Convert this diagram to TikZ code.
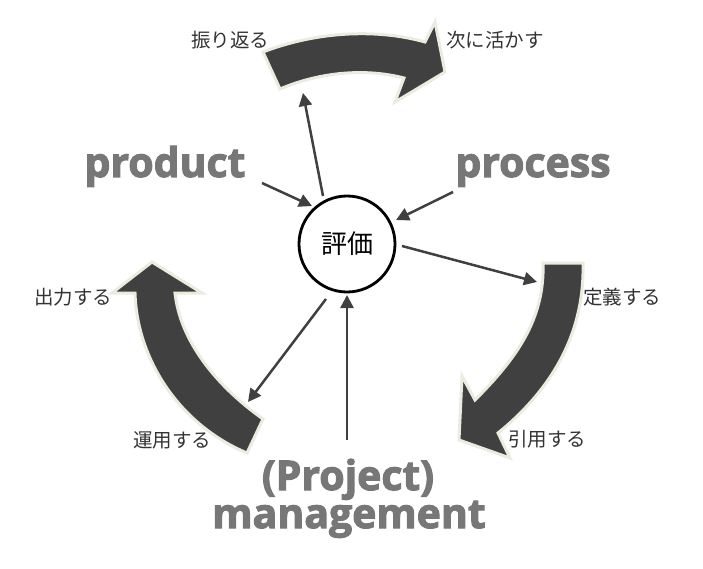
\documentclass[tikz,border=0pt]{standalone}
\usepackage{fontspec}
\usetikzlibrary{arrows.meta}
\newfontfamily\jpfont{Noto Sans CJK JP}
\newfontfamily\bigfont{Open Sans}[FakeBold=2.6]
\definecolor{arrdark}{HTML}{404040}
\definecolor{arrrim}{HTML}{ECEBE0}
\definecolor{biggray}{HTML}{777777}
\tikzset{
  bigarrow/.style={fill=arrdark, draw=arrrim, line width=3pt, line join=miter},
  jplabel/.style={font=\jpfont\fontsize{19.5}{19.5}\selectfont, text=black!80, inner sep=0pt},
  bigword/.style={font=\bigfont\bfseries\fontsize{41}{41}\selectfont, text=biggray, inner sep=0pt, anchor=base},
  link/.style={draw=arrdark, line width=2.5pt, -{Triangle[length=13pt,width=13pt]}},
}
\begin{document}
\begin{tikzpicture}[x=1pt,y=-1pt]
\useasboundingbox (0,0) rectangle (703,569);
% big curved arrows
\path[bigarrow] (263,52) .. controls (315,32) and (375,28) .. (425,42) -- (435,22) -- (445,72) -- (395,102) -- (404,78) .. controls (365,68) and (320,72) .. (280,89) -- cycle;
\path[bigarrow] (543,263) -- (583,263) .. controls (585,340) and (545,395) .. (498,433) -- (510,458) -- (459,440) -- (462,376) -- (475,400) .. controls (515,360) and (545,320) .. (543,263) -- cycle;
\path[bigarrow] (247,453) .. controls (180,425) and (137,360) .. (135,293) -- (112,293) -- (152,262) -- (202,293) -- (175,293) .. controls (180,340) and (215,385) .. (263,419) -- cycle;
% center
\node[circle, draw=black, line width=2.8pt, minimum size=96pt, inner sep=0pt, font=\jpfont\fontsize{26}{26}\selectfont] (c) at (347,244) {評価};
% labels
\node[jplabel] (l1) at (230,40) {振り返る};
\node[jplabel] (l2) at (495,40) {次に活かす};
\node[jplabel] (l3) at (73,297) {出力する};
\node[jplabel] (l4) at (172,440) {運用する};
\node[jplabel] (l5) at (622,297) {定義する};
\node[jplabel] (l6) at (547,439) {引用する};
\node[bigword] (w1) at (165,177) {product};
\node[bigword] (w2) at (533,177) {process};
\node[bigword] (w3) at (348,490) {(Project)};
\node[bigword] (w4) at (349,528) {management};
% connector ends
\coordinate (s1) at (323,196); \coordinate (e1) at (303,93);
\coordinate (s2) at (262,183); \coordinate (e2) at (312,206);
\coordinate (s3) at (453,192); \coordinate (e3) at (396,220);
\coordinate (s4) at (402,246); \coordinate (e4) at (537,282);
\coordinate (s5) at (326,299); \coordinate (e5) at (248,402);
\coordinate (s6) at (347,440); \coordinate (e6) at (347,295);
\draw[link] (s1) -- (e1);
\draw[link] (s2) -- (e2);
\draw[link] (s3) -- (e3);
\draw[link] (s4) -- (e4);
\draw[link] (s5) -- (e5);
\draw[link] (s6) -- (e6);
\end{tikzpicture}
\end{document}
